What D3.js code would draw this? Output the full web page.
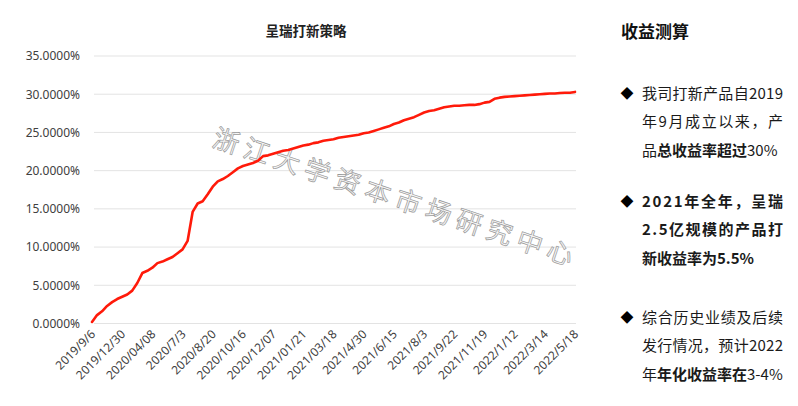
<!DOCTYPE html>
<html><head><meta charset="utf-8">
<script src="https://cdn.jsdelivr.net/npm/d3@7"></script>
<style>
html,body{margin:0;padding:0;background:#fff;}
svg{display:block;font-family:"Noto Sans CJK SC","Noto Sans",sans-serif;}
</style></head>
<body>
<svg id="c" width="798" height="406"></svg>
<script>
const title = "呈瑞打新策略";
const tickLabels = ["2019/9/6","2019/12/30","2020/04/08","2020/7/3","2020/8/20","2020/10/16","2020/12/07","2021/01/21","2021/03/18","2021/4/30","2021/6/15","2021/8/3","2021/9/22","2021/11/19","2022/1/12","2022/3/14","2022/5/18"];
const pointsPerLabel = 6;
// cumulative return (%)
const returns = [
0.2,1.1,1.6,2.3,2.8,3.2,3.5,3.8,4.3,5.3,6.6,6.9,7.3,7.9,8.1,8.4,8.7,9.2,9.7,10.8,
14.6,15.7,16.0,16.9,17.9,18.6,18.9,19.3,19.8,20.3,20.6,20.8,21.0,21.3,21.9,22.0,22.2,22.4,22.6,22.7,
22.9,23.1,23.3,23.4,23.6,23.7,23.9,24.0,24.1,24.3,24.4,24.5,24.6,24.7,24.9,25.0,25.2,25.4,25.6,25.8,
26.1,26.3,26.6,26.8,27.0,27.3,27.6,27.8,27.9,28.1,28.3,28.4,28.5,28.5,28.55,28.6,28.6,28.7,28.9,29.0,
29.4,29.55,29.65,29.7,29.75,29.8,29.85,29.9,29.95,30.0,30.05,30.1,30.1,30.15,30.2,30.2,30.3
];
const yTicks = [0,5,10,15,20,25,30,35];
const panelTitle = "收益测算";
const bullets = [
  {y:93, lines:[
    {parts:[["我司打新产品自2019",0]], justify:true},
    {parts:[["年9月成立以来，产",0]], justify:true},
    {parts:[["品",0],["总收益率超过",1],["30%",0]], justify:false}]},
  {y:201, lines:[
    {parts:[["2021年全年，呈瑞",1]], justify:true},
    {parts:[["2.5亿规模的产品打",1]], justify:true},
    {parts:[["新收益率为5.5%",1]], justify:false}]},
  {y:317, lines:[
    {parts:[["综合历史业绩及后续",0]], justify:true},
    {parts:[["发行情况，预计2022",0]], justify:true},
    {parts:[["年",0],["年化收益率在",1],["3-4%",0]], justify:false}]}
];
const watermark = "浙江大学资本市场研究中心";

const svg = d3.select("#c");
const x = d3.scaleLinear().domain([0, returns.length-1]).range([92, 575]);
const y = d3.scaleLinear().domain([0, 35]).range([323.5, 56]);

// grid
svg.append("g").selectAll("line").data(yTicks).join("line")
  .attr("x1",94).attr("x2",576)
  .attr("y1",d=>y(d)).attr("y2",d=>y(d))
  .attr("stroke","#e3e3e3").attr("stroke-width",1);

// y labels
const yAxis = d3.axisLeft(y).tickValues(yTicks).tickSize(0).tickPadding(0)
  .tickFormat(d=>d3.format(".4f")(d)+"%");
const ya = svg.append("g").attr("transform","translate(80,0)").call(yAxis);
ya.select(".domain").remove();
ya.selectAll("text").attr("font-size",12).attr("fill","#404040")
  .attr("font-family","'Noto Sans','Noto Sans CJK SC',sans-serif");

// x labels
const xg = svg.append("g");
xg.selectAll("text").data(tickLabels).join("text")
  .attr("transform",(d,i)=>`translate(${x(i*pointsPerLabel)+4},335) rotate(-45)`)
  .attr("text-anchor","end").attr("font-size",12).attr("fill","#404040")
  .attr("font-family","'Noto Sans','Noto Sans CJK SC',sans-serif")
  .text(d=>d);

// title
svg.append("text").attr("x",306).attr("y",36).attr("text-anchor","middle")
  .attr("font-size",13.5).attr("font-weight","bold").attr("fill","#222").text(title);

// watermark
svg.append("text")
  .attr("transform","translate(396,198) rotate(18.5)")
  .attr("text-anchor","middle").attr("dy","0.35em")
  .attr("font-size",26).attr("letter-spacing",6)
  .attr("fill","#f6f6f6").attr("stroke","#999").attr("stroke-width",0.7)
  .text(watermark);

// line
const line = d3.line().x((d,i)=>x(i)).y(d=>y(d)).curve(d3.curveLinear);
svg.append("path").datum(returns).attr("d",line)
  .attr("fill","none").attr("stroke","#ff1a0a").attr("stroke-width",2.6)
  .attr("stroke-linejoin","round").attr("stroke-linecap","round");

// right panel
svg.append("text").attr("x",621).attr("y",38).attr("font-size",17)
  .attr("font-weight","bold").attr("fill","#111").text(panelTitle);

bullets.forEach(b=>{
  svg.append("text").attr("x",627).attr("y",b.y+5).attr("text-anchor","middle")
    .attr("font-size",13).attr("fill","#000").text("◆");
  b.lines.forEach((ln,li)=>{
    const t = svg.append("text").attr("x",642).attr("y",b.y+li*28.5+5.5)
      .attr("font-size",15).attr("fill","#1a1a1a");
    if (ln.justify) t.attr("textLength",141).attr("lengthAdjust","spacing");
    ln.parts.forEach(p=>{
      t.append("tspan").attr("font-weight",p[1]?"bold":"normal").text(p[0]);
    });
  });
});
</script>
</body></html>
